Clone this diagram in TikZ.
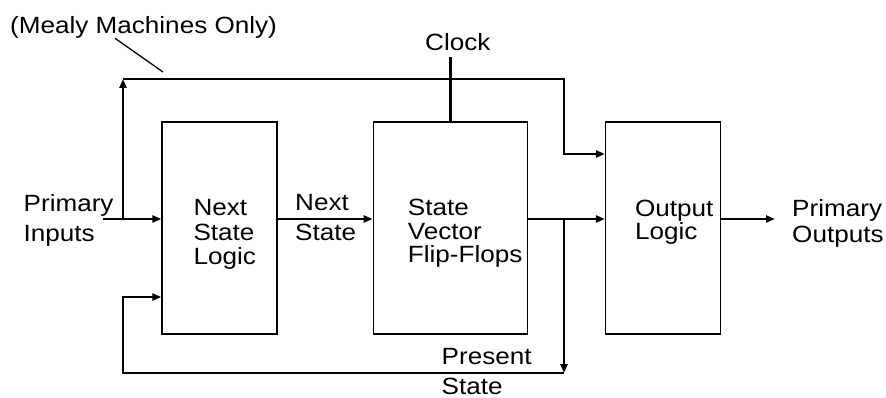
\documentclass[tikz,border=0pt]{standalone}
\usepackage{fontspec}
\setmainfont[FakeStretch=1.11]{Liberation Sans}
\usetikzlibrary{positioning,arrows.meta}

\begin{document}
\begin{tikzpicture}[x=1pt, y=-1pt, every node/.style={inner sep=0pt, font=\fontsize{23.5}{24.5}\selectfont},
  blk/.style={draw, line width=1.3pt, minimum height=212pt},
  lbl/.style={align=left, anchor=north west},
  tag/.style={align=left, anchor=north west, font=\fontsize{23.5}{29.5}\selectfont},
  wire/.style={line width=2.4pt},
  sig/.style={line width=2.4pt, -{Triangle[length=9pt,width=7pt]}}]
\useasboundingbox (0,0) rectangle (886,398);
% blocks
\node[blk, minimum width=115pt] (nsl) at (219.5,228) {};
\node[blk, minimum width=154pt, right=95pt of nsl] (sv) {};
\node[blk, minimum width=115pt, right=77pt of sv] (ol) {};
\node[lbl] (nsltext) at ([xshift=32pt, yshift=-78pt]nsl.north west) {Next\\State\\Logic};
\node[lbl, font=\fontsize{23.5}{23.5}\selectfont] (svtext) at ([xshift=35pt, yshift=-78pt]sv.north west) {State\\Vector\\Flip-Flops};
\node[lbl, font=\fontsize{23.5}{23}\selectfont] (oltext) at ([xshift=30pt, yshift=-79pt]ol.north west) {Output\\Logic};
% outside labels
\node[tag, font=\fontsize{23.5}{30}\selectfont] (pin) at (23.5,194.5) {Primary\\Inputs};
\node[tag, font=\fontsize{23.5}{30}\selectfont] (nextst) at (295,194.5) {Next\\State};
\node[tag, font=\fontsize{23.5}{26}\selectfont] (pout) at (792,199) {Primary\\Outputs};
\node[tag] (prst) at (441.5,348.5) {Present\\State};
\node[tag] (clk) at (425,33.5) {Clock};
\node[tag] (mealy) at (10,16) {(Mealy Machines Only)};
% free ends
\coordinate (inl) at (103,219);
\coordinate (tapin) at (123,219);
\coordinate (tl) at (123,79);
\coordinate (olup) at (564,154);
\coordinate (fb) at (564,219);
\coordinate (fbl) at (564,373);
\coordinate (bl) at (123,373);
\coordinate (outr) at (775,219);
\coordinate (mptr) at (163,72);
% connectors
\draw[sig] (inl) -- ([yshift=9pt]nsl.west);
\draw[sig] (tapin) -- (tl);
\draw[sig] (tl) -- (tl -| olup) -- (olup) -- ([yshift=74pt]ol.west);
\draw[wire] (sv.north) -- ++(0,-64);
\draw[sig] ([yshift=9pt]nsl.east) -- ([yshift=9pt]sv.west);
\draw[sig] ([yshift=9pt]sv.east) -- ([yshift=9pt]ol.west);
\draw[sig] (fb) -- (fbl);
\draw[sig] (fbl) -- (bl) |- ([yshift=-69pt]nsl.west);
\draw[sig] ([yshift=9pt]ol.east) -- (outr);
\draw[line width=1.3pt] ([xshift=105pt]mealy.south west) -- (mptr);
\end{tikzpicture}
\end{document}
